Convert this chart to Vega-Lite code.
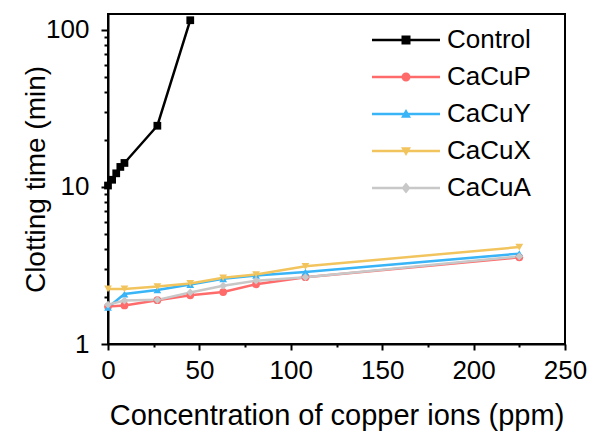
{
  "$schema": "https://vega.github.io/schema/vega-lite/v6.json",
  "width": 457,
  "height": 330,
  "autosize": {"type": "none"},
  "padding": {"left": 108, "top": 14, "right": 25, "bottom": 88},
  "background": "white",
  "config": {
    "font": "Liberation Sans",
    "view": {"stroke": "black", "strokeWidth": 2},
    "axis": {
      "labelFontSize": 26, "titleFontSize": 28, "labelColor": "black", "titleColor": "black",
      "titleFontWeight": "normal", "domainColor": "black", "domainWidth": 2,
      "tickColor": "black", "tickWidth": 2, "grid": false, "labelFont": "Liberation Sans", "titleFont": "Liberation Sans"
    }
  },
  "data": {
    "values": [
      {"series": "Control", "x": 0, "y": 10.2},
      {"series": "Control", "x": 2.25, "y": 11.1},
      {"series": "Control", "x": 4.5, "y": 12.2},
      {"series": "Control", "x": 6.75, "y": 13.4},
      {"series": "Control", "x": 9, "y": 14.2},
      {"series": "Control", "x": 27, "y": 24.5},
      {"series": "Control", "x": 45, "y": 115},
      {"series": "CaCuP", "x": 0, "y": 1.73},
      {"series": "CaCuP", "x": 9, "y": 1.76},
      {"series": "CaCuP", "x": 27, "y": 1.9},
      {"series": "CaCuP", "x": 45, "y": 2.04},
      {"series": "CaCuP", "x": 63, "y": 2.14},
      {"series": "CaCuP", "x": 81, "y": 2.4},
      {"series": "CaCuP", "x": 108, "y": 2.66},
      {"series": "CaCuP", "x": 225, "y": 3.56},
      {"series": "CaCuY", "x": 0, "y": 1.71},
      {"series": "CaCuY", "x": 9, "y": 2.08},
      {"series": "CaCuY", "x": 27, "y": 2.21},
      {"series": "CaCuY", "x": 45, "y": 2.39},
      {"series": "CaCuY", "x": 63, "y": 2.6},
      {"series": "CaCuY", "x": 81, "y": 2.73},
      {"series": "CaCuY", "x": 108, "y": 2.87},
      {"series": "CaCuY", "x": 225, "y": 3.76},
      {"series": "CaCuX", "x": 0, "y": 2.24},
      {"series": "CaCuX", "x": 9, "y": 2.24},
      {"series": "CaCuX", "x": 27, "y": 2.32},
      {"series": "CaCuX", "x": 45, "y": 2.43},
      {"series": "CaCuX", "x": 63, "y": 2.64},
      {"series": "CaCuX", "x": 81, "y": 2.77},
      {"series": "CaCuX", "x": 108, "y": 3.12},
      {"series": "CaCuX", "x": 225, "y": 4.14},
      {"series": "CaCuA", "x": 0, "y": 1.78},
      {"series": "CaCuA", "x": 9, "y": 1.89},
      {"series": "CaCuA", "x": 27, "y": 1.91},
      {"series": "CaCuA", "x": 45, "y": 2.13},
      {"series": "CaCuA", "x": 63, "y": 2.35},
      {"series": "CaCuA", "x": 81, "y": 2.53},
      {"series": "CaCuA", "x": 108, "y": 2.66},
      {"series": "CaCuA", "x": 225, "y": 3.61}
    ]
  },
  "layer": [
    {
      "mark": {"type": "line", "strokeWidth": 2.5},
      "encoding": {
        "x": {
          "field": "x", "type": "quantitative",
          "scale": {"domain": [0, 250], "nice": false, "zero": false},
          "axis": {"values": [0, 50, 100, 150, 200, 250], "title": "Concentration of copper ions (ppm)", "titleFontSize": 29, "tickSize": 6, "labelPadding": 7, "titlePadding": 18, "labelFlush": false}
        },
        "y": {
          "field": "y", "type": "quantitative",
          "scale": {"type": "log", "domain": [1, 126], "nice": false},
          "axis": {"values": [1, 10, 100], "format": "d", "title": "Clotting time (min)", "tickSize": 7, "labelPadding": 12, "titlePadding": -5, "labelFlush": false}
        },
        "color": {
          "field": "series", "type": "nominal",
          "scale": {"domain": ["Control", "CaCuP", "CaCuY", "CaCuX", "CaCuA"], "range": ["#000000", "#FF6B6B", "#38B4F7", "#F2C45E", "#C8C8C8"]},
          "legend": null
        }
      }
    },
    {
      "mark": {"type": "point", "filled": true, "size": 60, "opacity": 1},
      "encoding": {
        "x": {
          "field": "x", "type": "quantitative",
          "axis": {"orient": "bottom", "values": [25, 75, 125, 175, 225], "labels": false, "domain": false, "tickSize": 3, "title": null}
        },
        "y": {
          "field": "y", "type": "quantitative",
          "axis": {"orient": "left", "values": [2, 3, 4, 5, 6, 7, 8, 9, 20, 30, 40, 50, 60, 70, 80, 90], "labels": false, "domain": false, "tickSize": 4, "title": null}
        },
        "color": {"field": "series", "type": "nominal", "legend": null},
        "shape": {
          "field": "series", "type": "nominal", "legend": null,
          "scale": {"domain": ["Control", "CaCuP", "CaCuY", "CaCuX", "CaCuA"], "range": ["square", "circle", "triangle-up", "triangle-down", "diamond"]}
        }
      }
    },
    {
      "mark": {"type": "point", "filled": true, "size": 100, "opacity": 0},
      "encoding": {
        "x": {"field": "x", "type": "quantitative", "axis": null},
        "y": {"field": "y", "type": "quantitative", "axis": null},
        "color": {
          "field": "series", "type": "nominal",
          "legend": {
            "orient": "none", "legendX": 285, "legendY": 13, "title": null,
            "labelFontSize": 26, "labelFont": "Liberation Sans", "labelColor": "black",
            "symbolSize": 100, "symbolOpacity": 1, "labelOffset": 28, "rowPadding": 11
          }
        },
        "shape": {
          "field": "series", "type": "nominal",
          "scale": {
            "domain": ["Control", "CaCuP", "CaCuY", "CaCuX", "CaCuA"],
            "range": [
              "M-6.8,-0.25H6.8V0.25H-6.8ZM-0.9,-0.9H0.9V0.9H-0.9Z",
              "M-6.8,-0.25H6.8V0.25H-6.8ZM0.9,0A0.9,0.9,0,1,1,-0.9,0A0.9,0.9,0,1,1,0.9,0Z",
              "M-6.8,-0.25H6.8V0.25H-6.8ZM0,-1L1,0.75H-1Z",
              "M-6.8,-0.25H6.8V0.25H-6.8ZM0,1L-1,-0.75H1Z",
              "M-6.8,-0.25H6.8V0.25H-6.8ZM0,-1.1L0.9,0L0,1.1L-0.9,0Z"
            ]
          },
          "legend": {
            "orient": "none", "legendX": 285, "legendY": 13, "title": null,
            "labelFontSize": 26, "labelFont": "Liberation Sans", "labelColor": "black",
            "symbolSize": 100, "symbolOpacity": 1, "labelOffset": 28, "rowPadding": 11
          }
        }
      }
    }
  ],
  "resolve": {"scale": {"shape": "independent"}, "legend": {"color": "independent", "shape": "independent"}, "axis": {"x": "independent", "y": "independent"}}
}
